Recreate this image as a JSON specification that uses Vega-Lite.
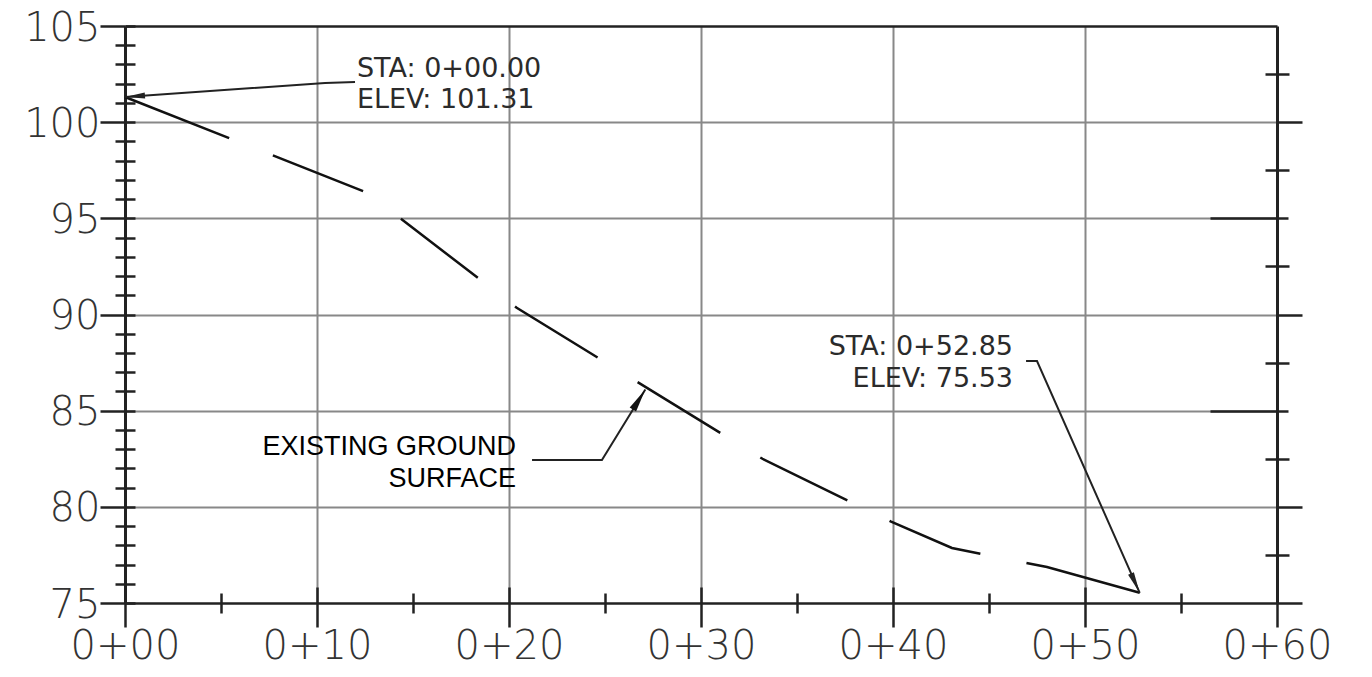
{
  "$schema": "https://vega.github.io/schema/vega-lite/v6.json",
  "width": 1152,
  "height": 577,
  "autosize": {"type": "none"},
  "padding": {"left": 125, "top": 26, "right": 95, "bottom": 74},
  "background": "white",
  "config": {"view": {"stroke": null}},
  "datasets": {
    "profile": [
      {"sta": 0, "elev": 101.31},
      {"sta": 12.6, "elev": 96.34},
      {"sta": 20.4, "elev": 90.35},
      {"sta": 33.2, "elev": 82.5},
      {"sta": 39.9, "elev": 79.23},
      {"sta": 43.07, "elev": 77.86},
      {"sta": 48.02, "elev": 76.87},
      {"sta": 52.85, "elev": 75.53}
    ],
    "leaders": [
      {"id": "start", "ord": 1, "sta": 0, "elev": 101.31},
      {"id": "start", "ord": 2, "sta": 10.42, "elev": 102.04},
      {"id": "start", "ord": 3, "sta": 11.98, "elev": 102.09},
      {"id": "end", "ord": 1, "sta": 52.85, "elev": 75.53},
      {"id": "end", "ord": 2, "sta": 47.5, "elev": 87.58},
      {"id": "end", "ord": 3, "sta": 46.93, "elev": 87.58},
      {"id": "ground", "ord": 1, "sta": 27.1, "elev": 86.1},
      {"id": "ground", "ord": 2, "sta": 24.84, "elev": 82.43},
      {"id": "ground", "ord": 3, "sta": 21.2, "elev": 82.43}
    ],
    "notesStart": [
      {"text": "STA: 0+00.00", "sta": 12.08, "elev": 102.35},
      {"text": "ELEV: 101.31", "sta": 12.08, "elev": 100.74}
    ],
    "notesEnd": [
      {"text": "STA: 0+52.85", "sta": 46.25, "elev": 87.89},
      {"text": "ELEV: 75.53", "sta": 46.25, "elev": 86.23}
    ],
    "notesGround": [
      {"text": "EXISTING GROUND", "sta": 20.36, "elev": 82.69},
      {"text": "SURFACE", "sta": 20.36, "elev": 81.03}
    ],
    "tipStart": [{"sta": 0, "elev": 101.31}],
    "tipEnd": [{"sta": 52.85, "elev": 75.53}],
    "tipGround": [{"sta": 27.1, "elev": 86.1}]
  },
  "resolve": {"axis": {"x": "independent", "y": "independent"}},
  "layer": [
    {
      "data": {"name": "profile"},
      "mark": {
        "type": "line",
        "color": "#111111",
        "strokeWidth": 2.5,
        "strokeCap": "butt",
        "strokeDash": [112, 47, 97, 47, 97, 47, 97, 47, 97, 47, 97, 47, 97, 47, 200]
      },
      "encoding": {
        "x": {
          "field": "sta",
          "type": "quantitative",
          "scale": {"domain": [0, 60], "nice": false, "zero": false},
          "axis": {
            "orient": "bottom",
            "title": null,
            "values": [0, 5, 10, 15, 20, 25, 30, 35, 40, 45, 50, 55, 60],
            "domainColor": "#222222",
            "domainWidth": 2.5,
            "tickColor": "#222222",
            "tickWidth": 2.5,
            "tickSize": {"expr": "datum.value % 10 === 0 ? 24 : 10"},
            "labelPadding": 31,
            "labelBaseline": "alphabetic",
            "labelAlign": "center",
            "labelFlush": false,
            "labelBound": false,
            "labelOverlap": false,
            "labelFont": "DejaVu Sans",
            "labelFontSize": 40,
            "labelFontWeight": 200,
            "labelColor": "#333333",
            "labelExpr": "datum.value % 10 === 0 ? '0+' + (datum.value < 10 ? '0' : '') + datum.value : ''",
            "grid": true,
            "gridColor": "#888888",
            "gridWidth": 2,
            "gridOpacity": {"condition": {"test": "datum.value % 10 === 0 && datum.value > 0 && datum.value < 60", "value": 1}, "value": 0}
          }
        },
        "y": {
          "field": "elev",
          "type": "quantitative",
          "scale": {"domain": [75, 105], "nice": false, "zero": false},
          "axis": {
            "orient": "left",
            "title": null,
            "values": [75, 76, 77, 78, 79, 80, 81, 82, 83, 84, 85, 86, 87, 88, 89, 90, 91, 92, 93, 94, 95, 96, 97, 98, 99, 100, 101, 102, 103, 104, 105],
            "domainColor": "#222222",
            "domainWidth": 3,
            "tickColor": "#222222",
            "tickWidth": 2.5,
            "tickSize": {"expr": "datum.value % 5 === 0 ? 25 : 10"},
            "labelPadding": 0,
            "labelOffset": 2,
            "labelBaseline": "middle",
            "labelAlign": "right",
            "labelFlush": false,
            "labelBound": false,
            "labelOverlap": false,
            "labelFont": "DejaVu Sans",
            "labelFontSize": 40,
            "labelFontWeight": 200,
            "labelColor": "#333333",
            "labelExpr": "datum.value % 5 === 0 ? datum.label : ''",
            "grid": true,
            "gridColor": "#888888",
            "gridWidth": 2,
            "gridOpacity": {"condition": {"test": "datum.value % 5 === 0 && datum.value > 75 && datum.value < 105", "value": 1}, "value": 0}
          }
        }
      }
    },
    {
      "data": {"name": "leaders"},
      "mark": {"type": "line", "color": "#222222", "strokeWidth": 2},
      "encoding": {
        "x": {
          "field": "sta",
          "type": "quantitative",
          "scale": {"domain": [0, 60], "nice": false, "zero": false},
          "axis": {
            "orient": "top",
            "title": null,
            "domainColor": "#222222",
            "domainWidth": 2.5,
            "ticks": false,
            "labels": false,
            "grid": false
          }
        },
        "y": {
          "field": "elev",
          "type": "quantitative",
          "scale": {"domain": [75, 105], "nice": false, "zero": false},
          "axis": {
            "orient": "right",
            "title": null,
            "values": [75, 77.5, 80, 82.5, 85, 87.5, 90, 92.5, 95, 97.5, 100, 102.5],
            "domainColor": "#222222",
            "domainWidth": 3,
            "tickColor": "#222222",
            "tickWidth": 2.5,
            "tickSize": {"expr": "datum.value % 5 !== 0 ? 12 : (datum.value === 85 || datum.value === 95 ? 11 : 25)"},
            "labels": false,
            "grid": false
          }
        },
        "detail": {"field": "id"},
        "order": {"field": "ord", "type": "quantitative"}
      }
    },
    {
      "data": {"name": "notesStart"},
      "mark": {"type": "text", "align": "left", "baseline": "alphabetic", "font": "DejaVu Sans", "fontSize": 27, "color": "#2b2b2b"},
      "encoding": {
        "x": {"field": "sta", "type": "quantitative", "axis": null},
        "y": {"field": "elev", "type": "quantitative", "axis": null},
        "text": {"field": "text"}
      }
    },
    {
      "data": {"name": "notesEnd"},
      "mark": {"type": "text", "align": "right", "baseline": "alphabetic", "font": "DejaVu Sans", "fontSize": 27, "color": "#2b2b2b"},
      "encoding": {
        "x": {"field": "sta", "type": "quantitative", "axis": null},
        "y": {"field": "elev", "type": "quantitative", "axis": null},
        "text": {"field": "text"}
      }
    },
    {
      "data": {"name": "notesGround"},
      "mark": {"type": "text", "align": "right", "baseline": "alphabetic", "font": "Liberation Sans", "fontSize": 27, "color": "#000000"},
      "encoding": {
        "x": {"field": "sta", "type": "quantitative", "axis": null},
        "y": {"field": "elev", "type": "quantitative", "axis": null},
        "text": {"field": "text"}
      }
    },
    {
      "data": {"name": "tipStart"},
      "mark": {"type": "point", "shape": "M0,0L-0.3,2L0.3,2Z", "filled": true, "color": "#222222", "opacity": 1, "size": 400, "angle": 266},
      "encoding": {
        "x": {
          "field": "sta",
          "type": "quantitative",
          "axis": {
            "orient": "bottom",
            "title": null,
            "values": [0, 5, 10, 15, 20, 25, 30, 35, 40, 45, 50, 55, 60],
            "domain": false,
            "labels": false,
            "grid": false,
            "tickColor": "#222222",
            "tickWidth": 2.5,
            "tickSize": {"expr": "datum.value % 10 === 0 ? -16 : -10"}
          }
        },
        "y": {
          "field": "elev",
          "type": "quantitative",
          "axis": {
            "orient": "left",
            "title": null,
            "values": [75, 76, 77, 78, 79, 80, 81, 82, 83, 84, 85, 86, 87, 88, 89, 90, 91, 92, 93, 94, 95, 96, 97, 98, 99, 100, 101, 102, 103, 104, 105],
            "domain": false,
            "labels": false,
            "grid": false,
            "tickColor": "#222222",
            "tickWidth": 2.5,
            "tickSize": -10
          }
        }
      }
    },
    {
      "data": {"name": "tipEnd"},
      "mark": {"type": "point", "shape": "M0,0L-0.3,2L0.3,2Z", "filled": true, "color": "#222222", "opacity": 1, "size": 450, "angle": 155.6},
      "encoding": {
        "x": {"field": "sta", "type": "quantitative", "axis": null},
        "y": {
          "field": "elev",
          "type": "quantitative",
          "axis": {
            "orient": "right",
            "title": null,
            "values": [77.5, 82.5, 85, 87.5, 92.5, 95, 97.5, 102.5],
            "domain": false,
            "labels": false,
            "grid": false,
            "tickColor": "#222222",
            "tickWidth": 2.5,
            "tickSize": {"expr": "datum.value % 5 !== 0 ? -12 : -67"}
          }
        }
      }
    },
    {
      "data": {"name": "tipGround"},
      "mark": {"type": "point", "shape": "M0,0L-0.32,2L0.32,2Z", "filled": true, "color": "#111111", "opacity": 1, "size": 550, "angle": 32},
      "encoding": {
        "x": {"field": "sta", "type": "quantitative", "axis": null},
        "y": {"field": "elev", "type": "quantitative", "axis": null}
      }
    }
  ]
}
